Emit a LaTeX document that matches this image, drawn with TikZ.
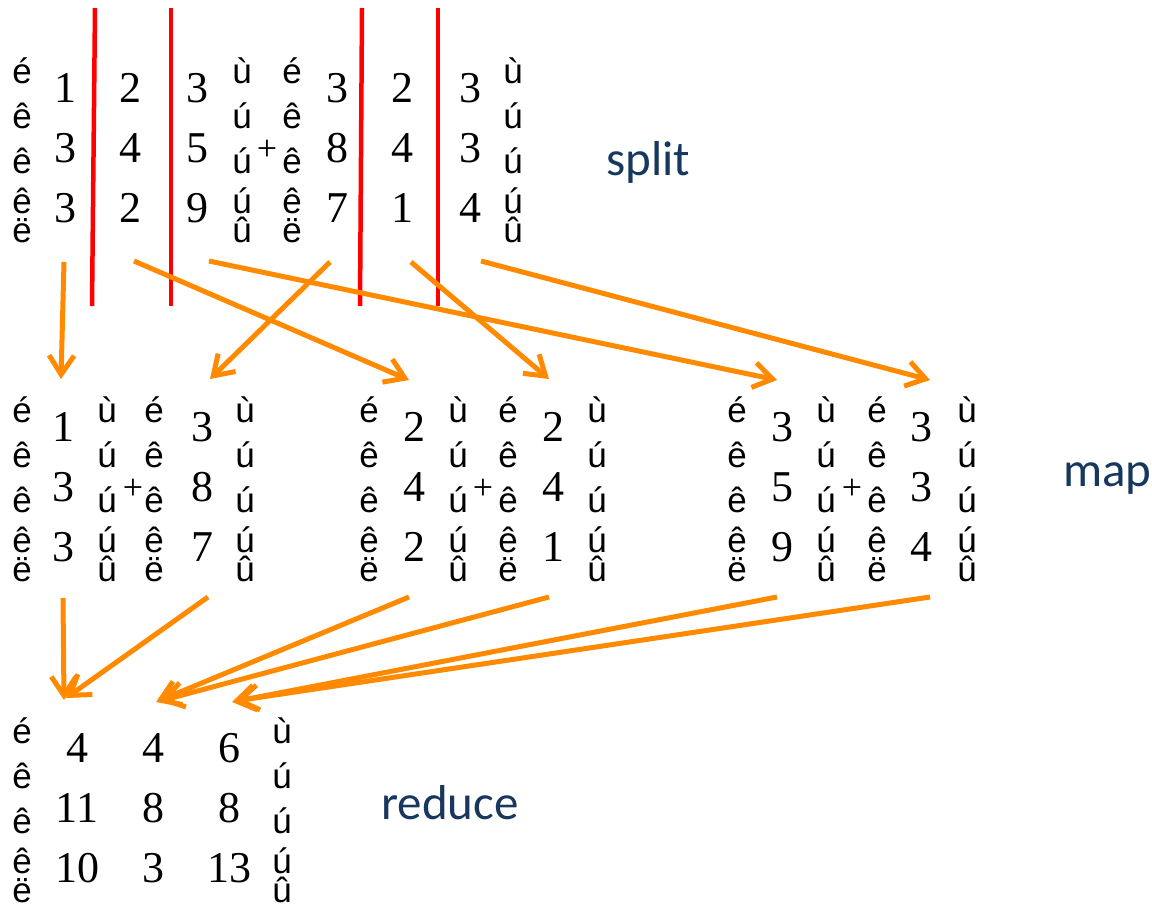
\documentclass[tikz,border=0pt]{standalone}
\usepackage{fontspec}
\setmainfont{Liberation Serif}
\newfontfamily\brfont{Liberation Sans}
\newfontfamily\labfont{Carlito}
\usetikzlibrary{arrows.meta}
\definecolor{flow}{HTML}{FF8A00}
\definecolor{cut}{HTML}{FF0000}
\definecolor{phase}{HTML}{17375E}

\tikzset{
  br/.style={anchor=base, inner sep=0pt, font=\brfont\fontsize{35}{35}\selectfont},
  num/.style={anchor=base, inner sep=0pt, font=\fontsize{44}{44}\selectfont},
  plus/.style={anchor=center, inner sep=0pt, font=\fontsize{36}{36}\selectfont},
  phaselabel/.style={anchor=base west, inner sep=0pt, text=phase, font=\labfont\fontsize{49}{49}\selectfont},
  cutline/.style={draw=cut, line width=4.5pt},
  flowarrow/.style={draw=flow, line width=5pt, -{Straight Barb[length=19pt,width=25pt]}},
}

% left bracket column: name, x, baseline of the top glyph
\newcommand\lbrk[3]{%
  \node[br] (#1-1) at (#2,#3) {é};
  \node[br] (#1-2) at (#2,#3+45) {ê};
  \node[br] (#1-3) at (#2,#3+90) {ê};
  \node[br] (#1-4) at (#2,#3+130) {ê};
  \node[br] (#1-5) at (#2,#3+159) {ë};
}
% right bracket column
\newcommand\rbrk[3]{%
  \node[br] (#1-1) at (#2,#3) {ù};
  \node[br] (#1-2) at (#2,#3+45) {ú};
  \node[br] (#1-3) at (#2,#3+90) {ú};
  \node[br] (#1-4) at (#2,#3+130) {ú};
  \node[br] (#1-5) at (#2,#3+159) {û};
}
% column of three numbers: name, x, baseline of top bracket glyph, entries
\newcommand\ncol[6]{%
  \node[num] (#1-1) at (#2,#3+19) {#4};
  \node[num] (#1-2) at (#2,#3+79) {#5};
  \node[num] (#1-3) at (#2,#3+139) {#6};
}

\begin{document}
\begin{tikzpicture}[x=1pt,y=-1pt]
\useasboundingbox (0,0) rectangle (1152,906);

% ---- input: A + B, cut into three column blocks
\lbrk{al}{22}{83}
\ncol{ac1}{65}{83}{1}{3}{3}
\ncol{ac2}{130}{83}{2}{4}{2}
\ncol{ac3}{197}{83}{3}{5}{9}
\rbrk{ar}{242}{83}
\node[plus] (p0) at (267,150) {+};
\lbrk{bl}{292}{83}
\ncol{bc1}{337}{83}{3}{8}{7}
\ncol{bc2}{402}{83}{2}{4}{1}
\ncol{bc3}{470}{83}{3}{3}{4}
\rbrk{br}{513}{83}
\node[phaselabel] (split) at (606,175) {split};

\coordinate (c1t) at (95,8);   \coordinate (c1b) at (92,306);
\coordinate (c2t) at (171,8);  \coordinate (c2b) at (171,306);
\coordinate (c3t) at (362,8);  \coordinate (c3b) at (360,306);
\coordinate (c4t) at (438,8);  \coordinate (c4b) at (438,306);
\draw[cutline] (c1t) -- (c1b);
\draw[cutline] (c2t) -- (c2b);
\draw[cutline] (c3t) -- (c3b);
\draw[cutline] (c4t) -- (c4b);

% ---- map: three column sums
\lbrk{m1l}{22}{422}
\ncol{m1a}{63}{422}{1}{3}{3}
\rbrk{m1r}{107}{422}
\node[plus] (p1) at (133,489) {+};
\lbrk{m1l2}{154}{422}
\ncol{m1b}{202}{422}{3}{8}{7}
\rbrk{m1r2}{245}{422}

\lbrk{m2l}{369}{422}
\ncol{m2a}{414}{422}{2}{4}{2}
\rbrk{m2r}{458}{422}
\node[plus] (p2) at (483,489) {+};
\lbrk{m2l2}{508}{422}
\ncol{m2b}{553}{422}{2}{4}{1}
\rbrk{m2r2}{597}{422}

\lbrk{m3l}{737}{422}
\ncol{m3a}{782}{422}{3}{5}{9}
\rbrk{m3r}{826}{422}
\node[plus] (p3) at (852,489) {+};
\lbrk{m3l2}{877}{422}
\ncol{m3b}{921}{422}{3}{3}{4}
\rbrk{m3r2}{967}{422}
\node[phaselabel] (map) at (1063,486) {map};

% ---- reduce: result matrix
\lbrk{rl}{22}{743}
\ncol{rc1}{77}{743}{4}{11}{10}
\ncol{rc2}{153}{743}{4}{8}{3}
\ncol{rc3}{229}{743}{6}{8}{13}
\rbrk{rr}{282}{743}
\node[phaselabel] (reduce) at (381,819) {reduce};

% ---- split arrows
\coordinate (s1) at (64,262);   \coordinate (t1) at (61,379);
\coordinate (s2) at (330,262);  \coordinate (t2) at (210,379);
\coordinate (s3) at (134,261);  \coordinate (t3) at (409,380);
\coordinate (s4) at (411,262);  \coordinate (t4) at (549,379);
\coordinate (s5) at (209,261);  \coordinate (t5) at (777,380);
\coordinate (s6) at (481,261);  \coordinate (t6) at (930,380);
\draw[flowarrow] (s1) -- (t1);
\draw[flowarrow] (s2) -- (t2);
\draw[flowarrow] (s3) -- (t3);
\draw[flowarrow] (s4) -- (t4);
\draw[flowarrow] (s5) -- (t5);
\draw[flowarrow] (s6) -- (t6);

% ---- reduce arrows
\coordinate (u1) at (63,598);   \coordinate (v1) at (64,700);
\coordinate (u2) at (208,597);  \coordinate (v2) at (66,698);
\coordinate (u3) at (409,597);  \coordinate (v3) at (156,702);
\coordinate (u4) at (549,597);  \coordinate (v4) at (160,701);
\coordinate (u5) at (777,597);  \coordinate (v5) at (232,702);
\coordinate (u6) at (930,597);  \coordinate (v6) at (235,701);
\draw[flowarrow] (u1) -- (v1);
\draw[flowarrow] (u2) -- (v2);
\draw[flowarrow] (u3) -- (v3);
\draw[flowarrow] (u4) -- (v4);
\draw[flowarrow] (u5) -- (v5);
\draw[flowarrow] (u6) -- (v6);
\end{tikzpicture}
\end{document}
